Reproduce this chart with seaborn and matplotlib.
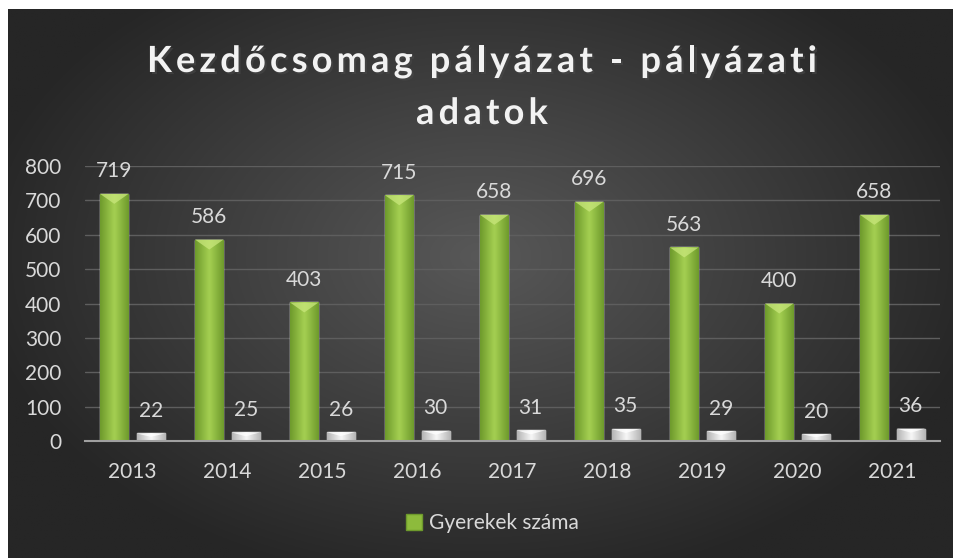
import numpy as np
import pandas as pd
import matplotlib
matplotlib.use("Agg")
import matplotlib.pyplot as plt
import matplotlib.patheffects as pe
from matplotlib.patches import Patch, Polygon
from matplotlib.font_manager import FontProperties
import seaborn as sns

years = ["2013", "2014", "2015", "2016", "2017", "2018", "2019", "2020", "2021"]
gyerekek = [719, 586, 403, 715, 658, 696, 563, 400, 658]
masik = [22, 25, 26, 30, 31, 35, 29, 20, 36]
series_names = ["Gyerekek száma", "Pályázatok száma"]
title_lines = ["Kezdőcsomag pályázat - pályázati", "adatok"]
yticks = [0, 100, 200, 300, 400, 500, 600, 700, 800]

df = pd.DataFrame({
    "year": years * 2,
    "series": [series_names[0]] * len(years) + [series_names[1]] * len(years),
    "value": gyerekek + masik,
})

sns.set_theme(style="white")
plt.rcParams["font.family"] = ["Lato", "DejaVu Sans"]

W, H = 954, 558
fig = plt.figure(figsize=(W / 100, H / 100), dpi=100)
fig.patch.set_facecolor("white")

# background with radial gradient
bg = fig.add_axes([8 / W, 0, (953 - 8) / W, (H - 9) / H])
bg.set_axis_off()
yy, xx = np.mgrid[0:1:300j, 0:1:500j]
r = np.sqrt(((xx - 0.5) / 0.75) ** 2 + ((yy - 0.55) / 0.85) ** 2)
r = np.clip(r / 0.72, 0, 1)
c0 = np.array([0x58, 0x58, 0x58]) / 255
c1 = np.array([0x26, 0x26, 0x26]) / 255
img = c0[None, None, :] * (1 - r[..., None]) + c1[None, None, :] * r[..., None]
bg.imshow(img, aspect="auto", extent=[0, 1, 0, 1], origin="lower")

ax = fig.add_axes([85 / W, 1 - 441 / H, (940 - 85) / W, (441 - 166) / H])
ax.patch.set_alpha(0)

green = "#8DBB3C"
white = "#E6E6E6"
sns.barplot(data=df, x="year", y="value", hue="series", palette=[green, white],
            width=0.768, gap=0.22, legend=False, ax=ax, saturation=1)
ax.set_ylim(0, 800)
ax.set_xlim(-0.5, len(years) - 0.5)

# data units per pixel (vertical)
upp = 800 / (441 - 166)

def shade(container, cedge, ccenter, ctop, bevel_px):
    cmap = matplotlib.colors.LinearSegmentedColormap.from_list("g", [cedge, ccenter, cedge])
    grad = np.linspace(0, 1, 64)[None, :]
    for p in container.patches:
        x0 = p.get_x(); w = p.get_width(); h = p.get_height()
        im = ax.imshow(grad, cmap=cmap, aspect="auto", extent=[x0, x0 + w, 0, h],
                       zorder=p.get_zorder() + 0.1, interpolation="bicubic")
        im.set_clip_path(p)
        bh = min(bevel_px * upp, h * 0.45)
        tri = Polygon([[x0, h], [x0 + w, h], [x0 + w * 0.5, h - bh]], closed=True,
                      facecolor=ctop, edgecolor="none", alpha=0.75,
                      zorder=p.get_zorder() + 0.2)
        ax.add_patch(tri)

shade(ax.containers[0], "#6E9A2C", "#A5D052", "#C9E77C", 10)
shade(ax.containers[1], "#B5B5B5", "#F7F7F7", "#FFFFFF", 4)
ax.set_xlim(-0.5, len(years) - 0.5)

for cont in ax.containers:
    ax.bar_label(cont, labels=[str(int(v)) for v in cont.datavalues], padding=9,
                 color="#D9D9D9", fontsize=15)

ax.set_ylim(0, 800)
ax.set_yticks(yticks)
ax.grid(axis="y", color="#5E5E5E", linewidth=1)
ax.set_axisbelow(True)
for s in ["top", "right", "left"]:
    ax.spines[s].set_visible(False)
ax.spines["bottom"].set_color("#A0A0A0")
ax.spines["bottom"].set_linewidth(1.5)
ax.set_xlabel("")
ax.set_ylabel("")
ax.tick_params(axis="both", length=0, colors="#D9D9D9", labelsize=15)
ax.tick_params(axis="y", pad=17)
ax.tick_params(axis="x", pad=15)

handles = [Patch(facecolor="#8DBB3C", edgecolor="#6E9A2C")]
fig.legend(handles, [series_names[0]], loc="center", bbox_to_anchor=(492 / W, 1 - 523 / H),
           frameon=False, labelcolor="#D9D9D9", handlelength=0.8,
           handleheight=0.8, handletextpad=0.3, prop={"family": ["Lato", "DejaVu Sans"], "size": 15})

# letter-spaced title
renderer = fig.canvas.get_renderer()
tprop = FontProperties(family=["Lato", "DejaVu Sans"], weight="bold", size=26)

def tw(s):
    w, h, d = renderer.get_text_width_height_descent(s, tprop, ismath=False)
    return w

spacing = 4.2
cx = 482
for line, base_y in zip(title_lines, [72, 124]):
    n = len(line)
    total = tw(line) + spacing * (n - 1)
    x_start = cx - total / 2
    for i, ch in enumerate(line):
        if ch == " ":
            continue
        xpos = x_start + tw(line[: i + 1]) - tw(ch) + spacing * i
        fig.text(xpos / W, 1 - base_y / H, ch, ha="left", va="baseline", color="#F2F2F2",
                 fontproperties=tprop,
                 path_effects=[pe.withSimplePatchShadow(offset=(1.5, -1.5), alpha=0.6)])

fig.savefig("out.png", dpi=100)
